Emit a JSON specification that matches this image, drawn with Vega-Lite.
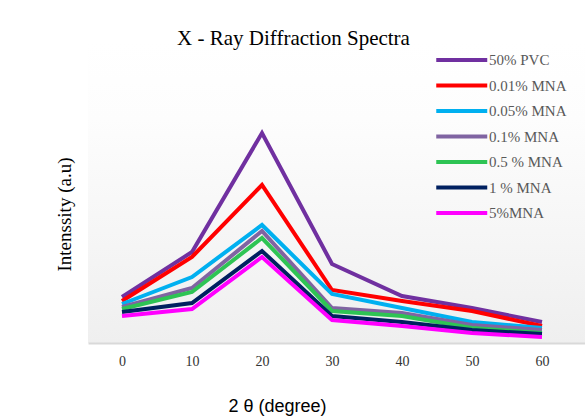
{
  "$schema": "https://vega.github.io/schema/vega-lite/v6.json",
  "width": 497,
  "height": 300,
  "autosize": {"type": "none"},
  "padding": {"left": 88, "top": 43, "right": 0, "bottom": 76},
  "background": "white",
  "title": {
    "text": "X - Ray Diffraction Spectra",
    "font": "Liberation Serif",
    "fontSize": 21,
    "fontWeight": "normal",
    "color": "#000000",
    "anchor": "middle",
    "dx": -43,
    "dy": 32,
    "baseline": "alphabetic",
    "offset": 9
  },
  "config": {
    "view": {
      "stroke": null,
      "fill": {
        "gradient": "linear",
        "x1": 0, "y1": 0, "x2": 0, "y2": 1,
        "stops": [
          {"offset": 0, "color": "#ffffff"},
          {"offset": 0.25, "color": "#fdfdfd"},
          {"offset": 1, "color": "#efefef"}
        ]
      }
    }
  },
  "data": {
    "values": [
      {"theta": 0, "series": "50% PVC", "intensity": 46},
      {"theta": 10, "series": "50% PVC", "intensity": 91},
      {"theta": 20, "series": "50% PVC", "intensity": 210},
      {"theta": 30, "series": "50% PVC", "intensity": 79},
      {"theta": 40, "series": "50% PVC", "intensity": 47},
      {"theta": 50, "series": "50% PVC", "intensity": 35},
      {"theta": 60, "series": "50% PVC", "intensity": 21},
      {"theta": 0, "series": "0.01% MNA", "intensity": 42},
      {"theta": 10, "series": "0.01% MNA", "intensity": 86},
      {"theta": 20, "series": "0.01% MNA", "intensity": 158},
      {"theta": 30, "series": "0.01% MNA", "intensity": 53},
      {"theta": 40, "series": "0.01% MNA", "intensity": 42},
      {"theta": 50, "series": "0.01% MNA", "intensity": 32},
      {"theta": 60, "series": "0.01% MNA", "intensity": 17},
      {"theta": 0, "series": "0.05% MNA", "intensity": 39},
      {"theta": 10, "series": "0.05% MNA", "intensity": 66},
      {"theta": 20, "series": "0.05% MNA", "intensity": 118},
      {"theta": 30, "series": "0.05% MNA", "intensity": 49},
      {"theta": 40, "series": "0.05% MNA", "intensity": 35},
      {"theta": 50, "series": "0.05% MNA", "intensity": 21},
      {"theta": 60, "series": "0.05% MNA", "intensity": 15},
      {"theta": 0, "series": "0.1% MNA", "intensity": 36},
      {"theta": 10, "series": "0.1% MNA", "intensity": 55},
      {"theta": 20, "series": "0.1% MNA", "intensity": 112},
      {"theta": 30, "series": "0.1% MNA", "intensity": 35},
      {"theta": 40, "series": "0.1% MNA", "intensity": 30},
      {"theta": 50, "series": "0.1% MNA", "intensity": 18},
      {"theta": 60, "series": "0.1% MNA", "intensity": 13},
      {"theta": 0, "series": "0.5 % MNA", "intensity": 34},
      {"theta": 10, "series": "0.5 % MNA", "intensity": 51},
      {"theta": 20, "series": "0.5 % MNA", "intensity": 105},
      {"theta": 30, "series": "0.5 % MNA", "intensity": 32},
      {"theta": 40, "series": "0.5 % MNA", "intensity": 27},
      {"theta": 50, "series": "0.5 % MNA", "intensity": 15},
      {"theta": 60, "series": "0.5 % MNA", "intensity": 10},
      {"theta": 0, "series": "1 % MNA", "intensity": 31},
      {"theta": 10, "series": "1 % MNA", "intensity": 40},
      {"theta": 20, "series": "1 % MNA", "intensity": 92},
      {"theta": 30, "series": "1 % MNA", "intensity": 27},
      {"theta": 40, "series": "1 % MNA", "intensity": 21},
      {"theta": 50, "series": "1 % MNA", "intensity": 13},
      {"theta": 60, "series": "1 % MNA", "intensity": 9},
      {"theta": 0, "series": "5%MNA", "intensity": 27},
      {"theta": 10, "series": "5%MNA", "intensity": 34},
      {"theta": 20, "series": "5%MNA", "intensity": 86},
      {"theta": 30, "series": "5%MNA", "intensity": 23},
      {"theta": 40, "series": "5%MNA", "intensity": 17},
      {"theta": 50, "series": "5%MNA", "intensity": 10},
      {"theta": 60, "series": "5%MNA", "intensity": 6}
    ]
  },
  "mark": {"type": "line", "strokeWidth": 4, "strokeJoin": "miter", "strokeCap": "butt"},
  "encoding": {
    "x": {
      "field": "theta",
      "type": "quantitative",
      "scale": {"domain": [-4.857, 66.143], "nice": false, "zero": false},
      "axis": {
        "values": [0, 10, 20, 30, 40, 50, 60],
        "grid": false,
        "ticks": false,
        "tickSize": 0,
        "domain": true,
        "domainColor": "#d9d9d9",
        "domainWidth": 2,
        "labelFont": "Liberation Serif",
        "labelFontSize": 14,
        "labelColor": "#333333",
        "labelBaseline": "alphabetic",
        "labelPadding": 22,
        "labelFlush": false,
        "title": "2 θ (degree)",
        "titleFont": "Liberation Sans",
        "titleFontSize": 18,
        "titleFontWeight": "normal",
        "titleColor": "#000000",
        "titleAnchor": null,
        "titleAlign": "center",
        "titleBaseline": "alphabetic",
        "titleX": 189,
        "titleY": 68
      }
    },
    "y": {
      "field": "intensity",
      "type": "quantitative",
      "scale": {"domain": [0, 300], "nice": false},
      "axis": {
        "labels": false,
        "ticks": false,
        "domain": false,
        "grid": false,
        "title": "Intenssity (a.u)",
        "titleFont": "Liberation Serif",
        "titleFontSize": 19,
        "titleFontWeight": "normal",
        "titleColor": "#000000",
        "titleAngle": -90,
        "titleAlign": "center",
        "titleBaseline": "alphabetic",
        "titleX": -18,
        "titleY": 171
      }
    },
    "color": {
      "field": "series",
      "type": "nominal",
      "sort": ["50% PVC", "0.01% MNA", "0.05% MNA", "0.1% MNA", "0.5 % MNA", "1 % MNA", "5%MNA"],
      "scale": {
        "domain": ["50% PVC", "0.01% MNA", "0.05% MNA", "0.1% MNA", "0.5 % MNA", "1 % MNA", "5%MNA"],
        "range": ["#7030A0", "#FF0000", "#00B0F0", "#8064A2", "#2EC454", "#002060", "#FF00FF"]
      },
      "legend": {
        "title": null,
        "orient": "none",
        "legendX": 346,
        "legendY": 2,
        "padding": 0,
        "symbolType": "M-1,0H3",
        "symbolSize": 650,
        "symbolStrokeWidth": 4,
        "symbolFillColor": "transparent",
        "rowPadding": 2.5,
        "labelOffset": 25,
        "labelFont": "Liberation Serif",
        "labelFontSize": 15,
        "labelColor": "#595959",
        "labelLimit": 200
      }
    }
  }
}
